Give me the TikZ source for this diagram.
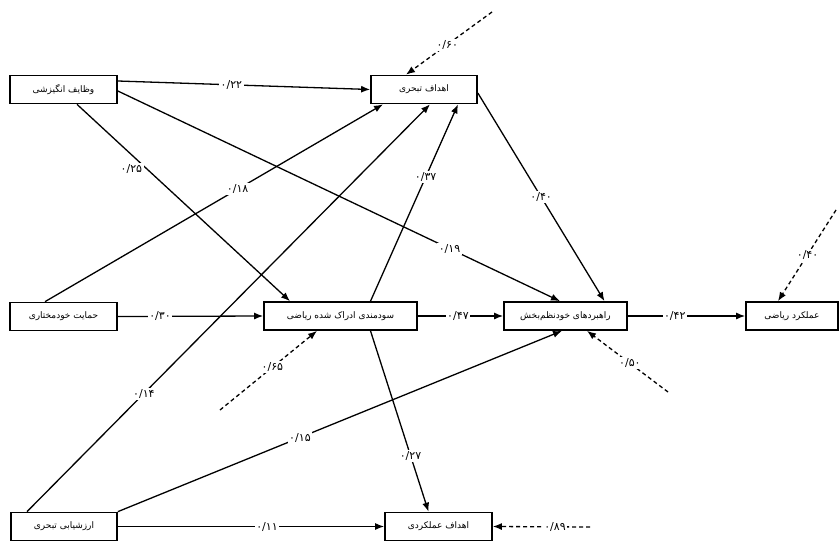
\documentclass[tikz,border=0pt]{standalone}
\usepackage{fontspec}
\newfontfamily\farsi[Script=Arabic]{DejaVu Sans}
\TeXXeTstate=1
\newcommand{\fa}[1]{\farsi\beginR #1\endR}
\usetikzlibrary{arrows.meta}

\tikzset{
  box/.style={draw, line width=1.7pt, minimum height=28pt, inner sep=0pt,
    font=\farsi\fontsize{9}{10}\selectfont},
  coef/.style={fill=white, inner sep=1.5pt, font=\farsi\fontsize{11}{12}\selectfont},
  link/.style={->, line width=1.3pt},
  err/.style={->, line width=1.3pt, dash pattern=on 4pt off 3pt},
}

\begin{document}
\begin{tikzpicture}[x=1pt, y=-1pt, >={Latex[length=9pt,width=7pt]}]
\useasboundingbox (0,0) rectangle (840,546);

% variables
\node[box, minimum width=107pt] (vazayef) at (63.5,89.5) {\fa{وظایف انگیزشی}};
\node[box, minimum width=106pt] (ahdaf) at (424,89.5) {\fa{اهداف تبحری}};
\node[box, minimum width=107pt] (hemayat) at (63.5,316.5) {\fa{حمایت خودمختاری}};
\node[box, minimum width=153pt] (sudmandi) at (340.5,316) {\fa{سودمندی ادراک شده ریاضی}};
\node[box, minimum width=123pt] (rahbord) at (565.5,316) {\fa{راهبردهای خودنظم‌بخش}};
\node[box, minimum width=92pt] (amalkard) at (792,316) {\fa{عملکرد ریاضی}};
\node[box, minimum width=106pt] (arzeshyabi) at (64,526.5) {\fa{ارزشیابی تبحری}};
\node[box, minimum width=107pt] (amalkardi) at (438.5,526.5) {\fa{اهداف عملکردی}};

% paths
\draw[link] ([yshift=8.5pt]vazayef.east) -- (ahdaf.west) node[coef, pos=0.45] {۰/۲۲};
\draw[link] ([xshift=13.5pt]vazayef.south) -- ([xshift=-50.5pt]sudmandi.north) node[coef, pos=0.33, left=3pt] {۰/۲۵};
\draw[link] ([yshift=-1.5pt]vazayef.east) -- ([xshift=-5.5pt]rahbord.north) node[coef, pos=0.75] {۰/۱۹};
\draw[link] ([xshift=-18.5pt]hemayat.north) -- ([xshift=-41pt]ahdaf.south) node[coef, pos=0.57] {۰/۱۸};
\draw[link] ([xshift=-37pt]arzeshyabi.north) -- ([xshift=6pt]ahdaf.south) node[coef, pos=0.29] {۰/۱۴};
\draw[link] ([xshift=30pt]sudmandi.north) -- ([xshift=34pt]ahdaf.south) node[coef, pos=0.63] {۰/۳۷};
\draw[link] ([yshift=-3.5pt]ahdaf.east) -- ([xshift=39pt]rahbord.north) node[coef, pos=0.5] {۰/۴۰};
\draw[link] (hemayat.east) -- (sudmandi.west) node[coef, pos=0.29] {۰/۳۰};
\draw[link] (sudmandi.east) -- (rahbord.west) node[coef, pos=0.47] {۰/۴۷};
\draw[link] (rahbord.east) -- (amalkard.west) node[coef, pos=0.4] {۰/۴۲};
\draw[link] ([xshift=30pt]sudmandi.south) -- ([xshift=-10pt]amalkardi.north) node[coef, pos=0.69] {۰/۲۷};
\draw[link] (arzeshyabi.north east) -- ([xshift=-3.5pt]rahbord.south) node[coef, pos=0.41] {۰/۱۵};
\draw[link] (arzeshyabi.east) -- (amalkardi.west) node[coef, pos=0.56] {۰/۱۱};

% residuals
\coordinate (e2) at (492,12);
\coordinate (e6) at (836,210);
\coordinate (e5) at (668,392);
\coordinate (e4) at (220,410);
\coordinate (e8) at (590,527);
\draw[err] (e2) -- ([xshift=-18pt]ahdaf.north) node[coef, pos=0.52] {۰/۶۰};
\draw[err] (e6) -- ([xshift=-14pt]amalkard.north) node[coef, pos=0.49] {۰/۴۰};
\draw[err] (e5) -- ([xshift=21.5pt]rahbord.south) node[coef, pos=0.47] {۰/۵۰};
\draw[err] (e4) -- ([xshift=-23.5pt]sudmandi.south) node[coef, pos=0.54] {۰/۶۵};
\draw[err] (e8) -- (amalkardi.east) node[coef, pos=0.36] {۰/۸۹};
\end{tikzpicture}
\end{document}
